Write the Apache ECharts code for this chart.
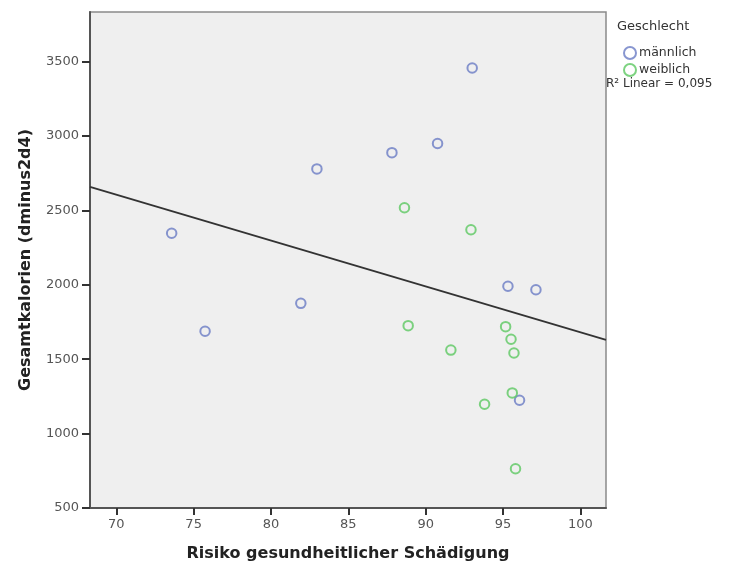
<!DOCTYPE html>
<html>
<head>
<meta charset="utf-8">
<script src="https://cdn.jsdelivr.net/npm/echarts@6/dist/echarts.min.js"></script>
<style>
  html, body { margin: 0; padding: 0; background: #ffffff; }
  #chart { width: 731px; height: 567px; }
</style>
</head>
<body>
<div id="chart"></div>
<script>
// Risk score (x) vs. total calories (y), by sex
const maleRisk     = [73.58, 75.74, 81.93, 82.97, 87.82, 90.77, 93.01, 95.32, 97.13, 96.07];
const maleKcal     = [2346, 1687, 1875, 2778, 2887, 2949, 3456, 1990, 1966, 1224];
const femaleRisk   = [88.63, 92.93, 88.87, 91.63, 95.17, 95.52, 95.71, 95.60, 93.81, 95.81];
const femaleKcal   = [2517, 2369, 1725, 1561, 1718, 1634, 1541, 1273, 1197, 764];

// Linear fit line across the whole x range
const fitX = [68.3, 101.66];
const fitY = [2657, 1629];

const xTicks = [70, 75, 80, 85, 90, 95, 100];
const yTicks = [500, 1000, 1500, 2000, 2500, 3000, 3500];

const seriesNames = ['männlich', 'weiblich'];
const legendTitle = 'Geschlecht';
const fitLabel = 'R² Linear = 0,095';

const pair = (xs, ys) => xs.map((x, i) => [x, ys[i]]);

const FONT = 'DejaVu Sans';
const BLUE = '#6a7cc4';
const GREEN = '#5cc862';

const chart = echarts.init(document.getElementById('chart'), null, { renderer: 'canvas' });

chart.setOption({
  animation: false,
  backgroundColor: '#ffffff',
  textStyle: { fontFamily: FONT },
  grid: {
    left: 90, right: 125, top: 12, bottom: 53,
    show: true,
    backgroundColor: '#efefef',
    borderColor: '#8a8a8a',
    borderWidth: 1.5
  },
  xAxis: {
    type: 'value',
    min: 68.3,
    max: 101.66,
    name: 'Risiko gesundheitlicher Schädigung',
    nameLocation: 'middle',
    nameGap: 38,
    nameTextStyle: { fontFamily: FONT, fontSize: 16, fontWeight: 'bold', color: '#222' },
    axisLine: { show: true, onZero: false, lineStyle: { color: '#555', width: 2 } },
    axisTick: { show: true, length: 7, customValues: xTicks, lineStyle: { color: '#333', width: 2 } },
    axisLabel: { customValues: xTicks, margin: 10, fontSize: 13, color: '#555', fontFamily: FONT,
                 formatter: v => String(v) },
    splitLine: { show: false }
  },
  yAxis: {
    type: 'value',
    min: 500,
    max: 3832,
    name: 'Gesamtkalorien (dminus2d4)',
    nameLocation: 'middle',
    nameGap: 56,
    nameTextStyle: { fontFamily: FONT, fontSize: 16, fontWeight: 'bold', color: '#222' },
    axisLine: { show: true, onZero: false, lineStyle: { color: '#555', width: 2 } },
    axisTick: { show: true, length: 8, customValues: yTicks, lineStyle: { color: '#333', width: 2 } },
    axisLabel: { customValues: yTicks, margin: 11, fontSize: 13, color: '#555', fontFamily: FONT,
                 formatter: v => String(v) },
    splitLine: { show: false }
  },
  legend: {
    orient: 'vertical',
    left: 618,
    top: 41,
    itemWidth: 12,
    itemHeight: 12,
    itemGap: 3,
    icon: 'circle',
    data: seriesNames,
    textStyle: { fontFamily: FONT, fontSize: 12.5, color: '#333', padding: [0, 0, 0, -2] }
  },
  graphic: [
    {
      type: 'text', left: 617, top: 20,
      style: { text: legendTitle, font: '13px "DejaVu Sans"', fill: '#333' }
    },
    {
      type: 'text', left: 606, top: 78,
      style: { text: fitLabel, font: '12px "DejaVu Sans"', fill: '#333' }
    }
  ],
  series: [
    {
      name: seriesNames[0],
      type: 'scatter',
      symbol: 'circle',
      symbolSize: 9.5,
      itemStyle: { color: 'rgba(0,0,0,0)', borderColor: BLUE, borderWidth: 2 },
      data: pair(maleRisk, maleKcal),
      z: 3
    },
    {
      name: seriesNames[1],
      type: 'scatter',
      symbol: 'circle',
      symbolSize: 9.5,
      itemStyle: { color: 'rgba(0,0,0,0)', borderColor: GREEN, borderWidth: 2 },
      data: pair(femaleRisk, femaleKcal),
      z: 3
    },
    {
      name: 'fit',
      type: 'line',
      data: pair(fitX, fitY),
      symbol: 'none',
      silent: true,
      lineStyle: { color: '#333', width: 1.8 },
      z: 2
    }
  ]
});
</script>
</body>
</html>
